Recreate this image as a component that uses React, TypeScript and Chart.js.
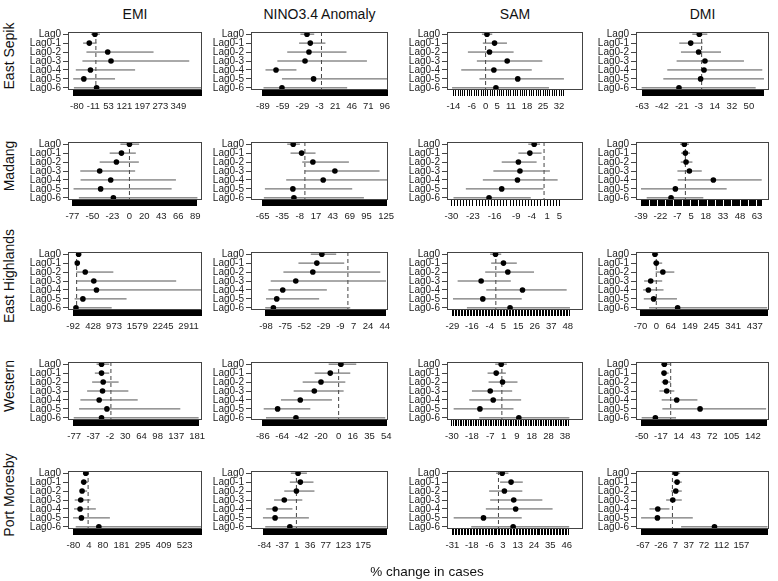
import React, { useEffect, useRef } from 'react';
import { Chart, registerables } from 'chart.js';
Chart.register(...registerables);

const FONT = '"Liberation Sans", Arial, Helvetica, sans-serif';

// ---------- categories ----------
const indices = ['EMI', 'NINO3.4 Anomaly', 'SAM', 'DMI'];
const regions = ['East Sepik', 'Madang', 'East Highlands', 'Western', 'Port Moresby'];
const lags = ['Lag0', 'Lag0-1', 'Lag0-2', 'Lag0-3', 'Lag0-4', 'Lag0-5', 'Lag0-6'];

// ---------- EMI (% change estimates, lower, upper), rows = regions ----------
const emiEst = [
  [-4, -28, 50, 64, -23, -51, 3],
  [0, -10.8, -17.6, -40.2, -25.3, -38.9, -21.7],
  [52, 17, 224, 447, 516, 163, -17],
  [-19.7, -19.7, -16.2, -17.6, -24.6, -8.4, -19.7],
  [-12.7, -23.6, -32.7, -40, -43.6, -36.3, 58.1],
];
const emiLow = [
  [-21, -54, -40, -57, -85, -96, -93],
  [-12.2, -26.7, -40.2, -66.4, -66, -75.5, -68.3],
  [-9, -26, -9, -9, -9, -52, -77],
  [-30.2, -33.7, -39.4, -49.9, -64, -66.8, -78],
  [-27.2, -40, -45.4, -72.6, -76.3, -81.7, -67.2],
];
const emiHigh = [
  [17, 3, 244, 395, 166, 81, 446],
  [13.1, 8.6, 12.7, 7.7, 62.8, 57, 91.8],
  [103, 77, 955, 2589, 3242, 1299, 912],
  [-3.5, -3.5, 16.2, 36.6, 56.2, 145.5, 184],
  [5.4, 0, -5.4, 12.7, 41.8, 118, 614],
];
const emiTicks = [
  [-80, -11, 53, 121, 197, 273, 349],
  [-77, -50, -23, 0, 20, 43, 66, 89],
  [-92, 428, 973, 1579, 2245, 2911],
  [-77, -37, -2, 30, 64, 98, 137, 181],
  [-80, 4, 80, 181, 295, 409, 523],
];
const emiMin = [-118, -83, -224, -90, -109];
const emiMax = [449, 98, 3260, 191, 617];

// ---------- NINO3.4 Anomaly ----------
const ninoEst = [
  [-22, -17, -19, -25, -69, -12, -60],
  [-18, -5.1, 12.3, 46.2, 28.2, -18.5, -16.9],
  [-31.2, -37.2, -42, -62.4, -78, -85.2, -89.2],
  [2.6, -9.5, -20, -27.6, -43.5, -69.2, -48.4],
  [4.3, 10.3, 0, -31.8, -55.9, -55.9, -17.2],
];
const ninoLow = [
  [-32, -34, -52, -67, -85, -60, -88],
  [-27.2, -22.1, -4.1, 0, -28.8, -61.6, -63.2],
  [-44.4, -59.2, -77.2, -92.4, -95.2, -98, -99],
  [-11.3, -27.2, -40.8, -51, -65.4, -85, -82.4],
  [-14.6, -17.2, -31.8, -58.5, -79.1, -87.7, -81.7],
];
const ninoHigh = [
  [-11, 6, 38, 69, -38, 100, 39],
  [-7.7, 16.4, 67.8, 115, 126.8, 72.9, 90.9],
  [-14, -4.4, 38.8, 45.6, -25.2, -34.4, 2.8],
  [20, 13.2, 7.6, 5.7, -7.6, -32.1, 52.9],
  [27.5, 44.7, 47.3, 15.5, -10.3, 32.7, 236.5],
];
const ninoTicks = [
  [-89, -59, -29, -3, 21, 46, 71, 96],
  [-65, -35, -8, 17, 43, 69, 95, 125],
  [-98, -75, -52, -29, -9, 7, 24, 44],
  [-86, -64, -42, -20, 0, 16, 35, 54],
  [-84, -37, 1, 36, 77, 123, 175],
];
const ninoMin = [-107, -83, -116, -99.4, -119];
const ninoMax = [101, 128, 48, 56, 240];

// ---------- SAM ----------
const samEst = [
  [0.6, 3.9, 1.7, 9.4, 3.6, 14, 4.5],
  [-3.2, -4.6, -8.3, -7.8, -8.6, -13.7, -17.8],
  [-0.2, 5.1, 8, -9.8, 17.8, -8.7, 9.5],
  [-0.4, -3.4, 0.4, -7, -5.2, -13.2, 10.2],
  [2.5, 8.5, 4, 10.3, 11.6, -10.1, 9.9],
];
const samLow = [
  [-1.6, -1.2, -7.7, -3.8, -10.6, -2.7, -14.6],
  [-5.1, -8.3, -13.7, -16.4, -19.8, -25.3, -29.3],
  [-3.8, -3.1, -7.1, -25.5, -6.4, -28.6, -19.3],
  [-4, -8.6, -8, -18, -19.6, -29, -13.6],
  [-1.6, 1.1, -6.3, -5.6, -8.5, -30.2, -18.4],
];
const samHigh = [
  [2.9, 9.3, 12.2, 24.7, 20.1, 34.1, 27.6],
  [-1.3, -0.8, -2.4, 1.9, 4.4, -0.2, -4.3],
  [3.6, 14, 25.5, 10, 47.3, 17.3, 49.5],
  [3, 2.4, 9.4, 6.2, 11.6, 7, 40.6],
  [6.7, 16.4, 16.1, 29.6, 36.5, 15.7, 47.7],
];
const samTicks = [
  [-14, -6, 0, 5, 11, 18, 25, 32],
  [-30, -23, -16, -9, -4, 1, 5],
  [-29, -16, -4, 5, 15, 26, 37, 48],
  [-30, -18, -7, 1, 9, 18, 28, 38],
  [-31, -18, -6, 3, 13, 24, 35, 46],
];
const samMin = [-16.8, -31.4, -32.6, -33, -34.7];
const samMax = [42.4, 12.6, 58.2, 48.8, 57];

// ---------- DMI ----------
const dmiEst = [
  [-2.5, -11.6, -3.2, 3.5, 2.5, -1.1, -24],
  [-0.9, 0, 0.6, 3.5, 24.6, -8.8, -12.6],
  [-5.8, 0, 29.1, -24.8, -35, -11.7, 94.7],
  [-11, -11.5, -9.2, -6.9, 10.4, 50.8, -26.5],
  [7.6, 10.6, 7.6, 0.8, -33.4, -34.2, 95.8],
];
const dmiLow = [
  [-9.9, -23.7, -21.9, -26.5, -36.4, -40.6, -63.5],
  [-4.7, -3.8, -4.1, -7, -6.7, -39, -34],
  [-17.5, -14.6, -2.9, -53.9, -58.3, -55.4, -32],
  [-16.7, -16.7, -15.6, -19.6, -15.6, -14.4, -50.2],
  [0, 2.3, -3, -14.4, -52.4, -71.4, 19.8],
];
const dmiHigh = [
  [6, 1.1, 20.5, 44.8, 64.2, 66, 57.2],
  [3.2, 4.1, 6.2, 14.4, 67.1, 36.3, 15.8],
  [8.7, 26.2, 80, 26.2, 32, 91.8, 492],
  [0, -3.5, 0, 6.3, 46.2, 165, 9.2],
  [17.5, 21.3, 21.3, 21.3, -6.8, 46.4, 216.6],
];
const dmiTicks = [
  [-63, -42, -21, -3, 14, 32, 50],
  [-39, -22, -7, 5, 18, 33, 48, 63],
  [-70, 0, 64, 149, 245, 341, 437],
  [-50, -17, 14, 43, 72, 105, 142],
  [-67, -26, 7, 37, 72, 112, 157],
];
const dmiMin = [-69.5, -43.4, -90, -60, -83];
const dmiMax = [71.3, 73.5, 500, 170, 220];

const allEst = [emiEst, ninoEst, samEst, dmiEst];
const allLow = [emiLow, ninoLow, samLow, dmiLow];
const allHigh = [emiHigh, ninoHigh, samHigh, dmiHigh];
const allTicks = [emiTicks, ninoTicks, samTicks, dmiTicks];
const allMin = [emiMin, ninoMin, samMin, dmiMin];
const allMax = [emiMax, ninoMax, samMax, dmiMax];

// ---------- layout ----------
const boxLeft = [68, 251, 447, 636];
const boxWidth = [134, 137, 136, 133];
const boxTop = [30, 140, 250, 360, 469];
const BOX_H = 60;
const Y_AXIS_W = 66;
const X_AXIS_H = 28;
const PAD_T = 6;
const PAD_R = 14;
const Y_MIN = 0.76;
const Y_MAX = 7.24;

const boxPlugin = {
  id: 'boxFrame',
  afterDraw(chart: any) {
    const { ctx, chartArea: a } = chart;
    ctx.save();
    ctx.strokeStyle = '#444';
    ctx.lineWidth = 1;
    ctx.strokeRect(Math.round(a.left) + 0.5, Math.round(a.top) + 0.5, Math.round(a.right - a.left) - 1, Math.round(a.bottom - a.top) - 1);
    ctx.restore();
  },
};

function Panel({ r, c }: { r: number; c: number }) {
  const ref = useRef<HTMLCanvasElement>(null);
  const W = boxWidth[c] + Y_AXIS_W + PAD_R;
  const H = BOX_H + PAD_T + X_AXIS_H;

  useEffect(() => {
    const est = allEst[c][r];
    const low = allLow[c][r];
    const high = allHigh[c][r];
    const labels = allTicks[c][r];
    const labelSet = new Set(labels);
    const rugLo = Math.min(...low, labels[0]);
    const rugHi = Math.max(...high, labels[labels.length - 1]);
    const step = Math.max(1, Math.ceil((rugHi - rugLo) / 700));
    const vals = new Set<number>();
    for (let v = Math.ceil(rugLo); v <= Math.floor(rugHi); v += step) vals.add(v);
    labels.forEach((v) => vals.add(v));
    const xTicks = Array.from(vals).sort((a, b) => a - b);

    const datasets: any[] = [
      {
        data: est.map((v, i) => ({ x: v, y: i + 1 })),
        pointRadius: 2.8,
        pointBorderWidth: 0,
        backgroundColor: '#000',
        borderColor: '#000',
        showLine: false,
      },
      ...low.map((l, i) => ({
        data: [
          { x: l, y: i + 1 },
          { x: high[i], y: i + 1 },
        ],
        showLine: true,
        borderColor: '#555',
        borderWidth: 1,
        pointRadius: 0,
      })),
      {
        data: [
          { x: 0, y: Y_MIN },
          { x: 0, y: Y_MAX },
        ],
        showLine: true,
        borderColor: '#444',
        borderWidth: 1,
        borderDash: [4, 3],
        pointRadius: 0,
      },
    ];

    const chart = new Chart(ref.current as HTMLCanvasElement, {
      type: 'scatter',
      data: { datasets },
      options: {
        animation: false,
        responsive: false,
        maintainAspectRatio: false,
        events: [],
        layout: { padding: { top: PAD_T, right: PAD_R, left: 0, bottom: 0 } },
        plugins: { legend: { display: false }, tooltip: { enabled: false } },
        scales: {
          x: {
            type: 'linear',
            min: allMin[c][r],
            max: allMax[c][r],
            bounds: 'data',
            afterBuildTicks: (s: any) => {
              s.ticks = xTicks.map((v) => ({ value: v }));
            },
            afterFit: (s: any) => {
              s.height = X_AXIS_H;
            },
            ticks: {
              autoSkip: false,
              maxRotation: 0,
              minRotation: 0,
              padding: 5,
              color: '#222',
              font: { family: FONT, size: 9.5 },
              callback: (v: any) => (labelSet.has(v) ? String(v) : ''),
            },
            grid: { drawOnChartArea: false, drawTicks: true, tickLength: 6, color: '#000', lineWidth: 1 },
            border: { display: false },
          },
          y: {
            type: 'linear',
            min: Y_MIN,
            max: Y_MAX,
            reverse: true,
            bounds: 'data',
            afterBuildTicks: (s: any) => {
              s.ticks = lags.map((_, i) => ({ value: i + 1 }));
            },
            afterFit: (s: any) => {
              s.width = Y_AXIS_W;
            },
            ticks: {
              autoSkip: false,
              padding: 2,
              color: '#222',
              font: { family: FONT, size: 10 },
              callback: (v: any) => lags[Math.round(v) - 1] ?? '',
            },
            grid: { drawOnChartArea: false, drawTicks: true, tickLength: 5, color: '#444', lineWidth: 1 },
            border: { display: false },
          },
        },
      } as any,
      plugins: [boxPlugin],
    });
    return () => chart.destroy();
  }, [r, c]);

  return (
    <canvas
      ref={ref}
      width={W}
      height={H}
      style={{
        position: 'absolute',
        left: boxLeft[c] - Y_AXIS_W,
        top: boxTop[r] - PAD_T,
        width: W,
        height: H,
      }}
    />
  );
}

export default function App() {
  useEffect(() => {
    document.body.style.margin = '0';
    document.body.style.background = '#fff';
  }, []);

  const panels: React.ReactNode[] = [];
  regions.forEach((_, r) => {
    indices.forEach((_, c) => {
      panels.push(<Panel key={`${r}-${c}`} r={r} c={c} />);
    });
  });

  return (
    <div
      style={{
        position: 'relative',
        width: 778,
        height: 581,
        overflow: 'hidden',
        background: '#fff',
        fontFamily: FONT,
        color: '#111',
      }}
    >
      {indices.map((name, c) => (
        <div
          key={name}
          style={{
            position: 'absolute',
            left: boxLeft[c] - 40,
            width: boxWidth[c] + 80,
            top: 5,
            height: 18,
            lineHeight: '18px',
            fontSize: 14,
            textAlign: 'center',
            whiteSpace: 'nowrap',
          }}
        >
          {name}
        </div>
      ))}
      {regions.map((name, r) => (
        <div
          key={name}
          style={{
            position: 'absolute',
            left: 9 - 60,
            width: 120,
            top: boxTop[r] + 26 - 9,
            height: 18,
            lineHeight: '18px',
            fontSize: 14,
            textAlign: 'center',
            whiteSpace: 'nowrap',
            transform: 'rotate(-90deg)',
            transformOrigin: 'center center',
          }}
        >
          {name}
        </div>
      ))}
      {panels}
      <div
        style={{
          position: 'absolute',
          left: 427 - 100,
          width: 200,
          top: 572 - 9,
          height: 18,
          lineHeight: '18px',
          fontSize: 13.5,
          textAlign: 'center',
          whiteSpace: 'nowrap',
        }}
      >
        % change in cases
      </div>
    </div>
  );
}
